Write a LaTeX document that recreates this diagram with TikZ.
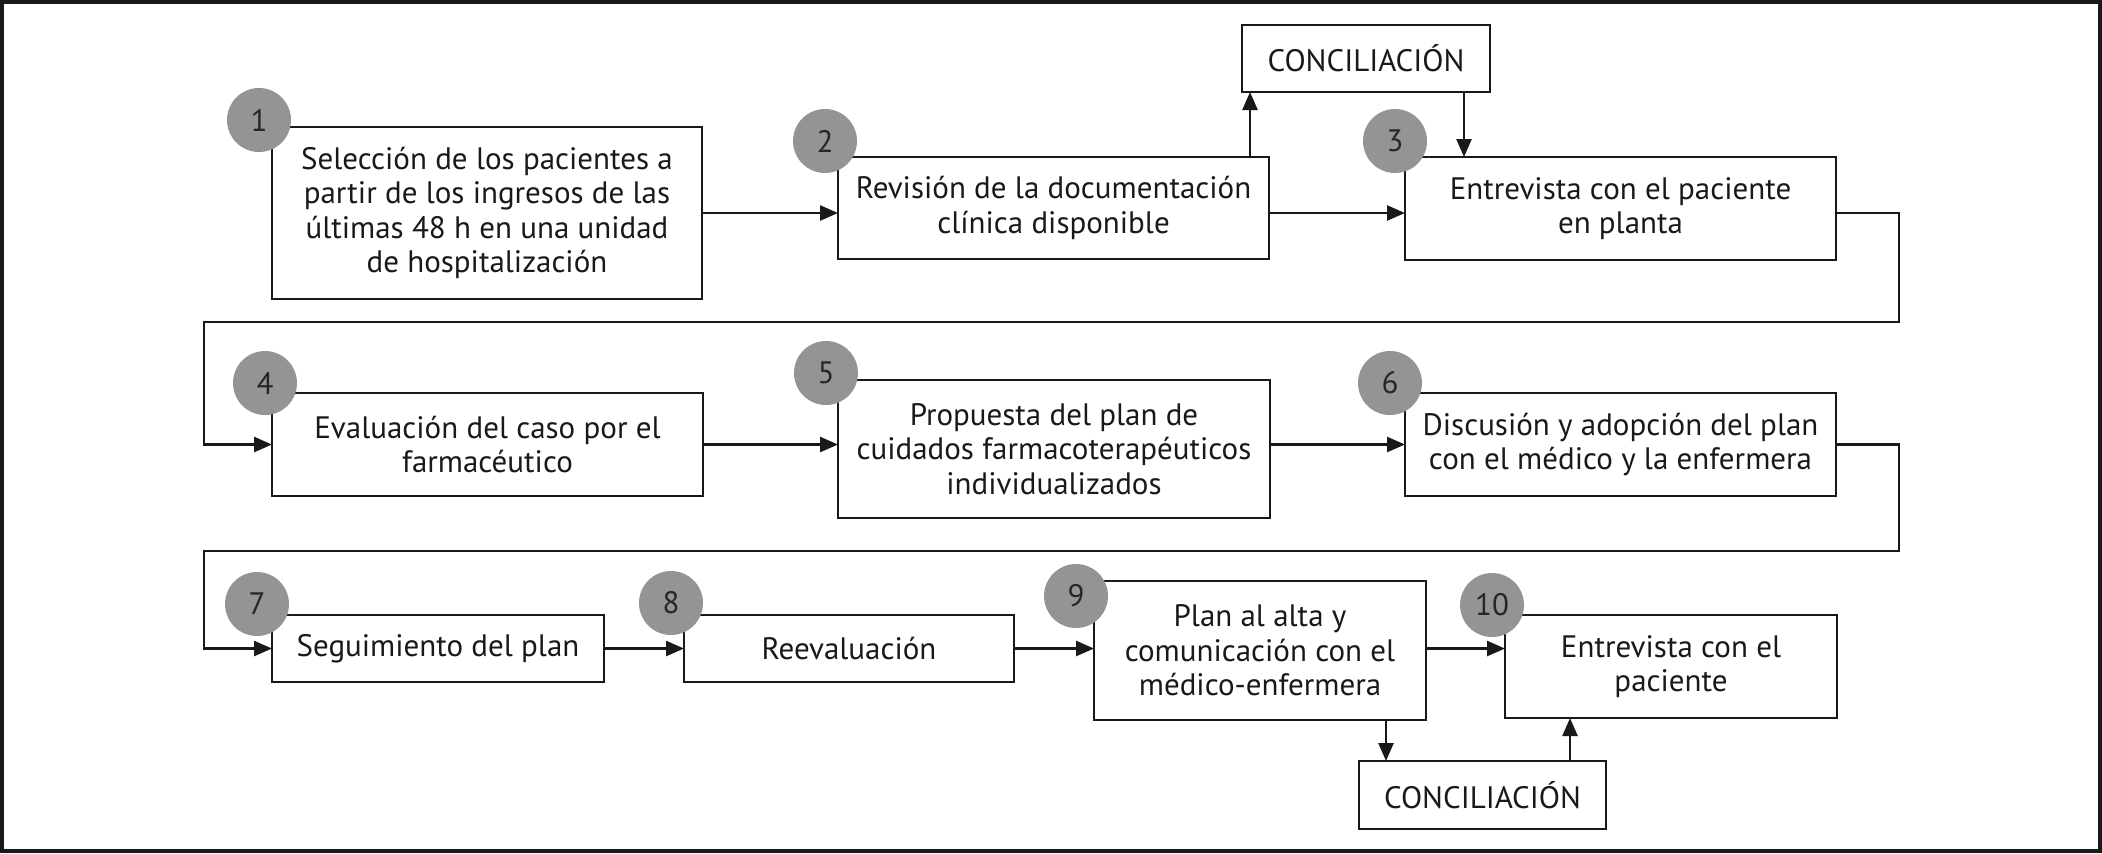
\documentclass[tikz,border=0pt]{standalone}
\usepackage{fontspec}
\setmainfont{PT Sans}
\usetikzlibrary{arrows.meta,calc}
\tikzset{
  stepbox/.style={draw=black!90, line width=1.35pt, fill=white, align=center,
    inner sep=0pt, outer sep=0pt, font=\fontsize{15.5}{17.25}\selectfont, text=black!90},
  numc/.style={circle, fill=black!42, minimum size=32pt, inner sep=0pt,
    font=\fontsize{15.5}{17}\selectfont, text=black!85},
  arr/.style={line width=1.25pt, draw=black!90, -{Triangle[length=9pt,width=7.5pt]}},
  frame/.style={line width=1.75pt, draw=black!90}
}
\newcommand{\placebox}[6]{%
  \pgfmathsetmacro\bw{(#4-#2)*0.5}%
  \pgfmathsetmacro\bh{(#5-#3)*0.5}%
  \node[stepbox, minimum width=\bw pt, minimum height=\bh pt] (#1) at ({(#2+#4)/2},{(#3+#5)/2}) {#6};}
\begin{document}
\begin{tikzpicture}[x=0.5pt,y=-0.5pt]
\useasboundingbox (0,0) rectangle (2102,853);
\draw[frame] (2,2) rectangle (2100,851);

\placebox{b1}{272}{127}{702}{299}{Selección de los pacientes a\\partir de los ingresos de las\\últimas 48 h en una unidad\\de hospitalización}
\placebox{b2}{838}{157}{1269}{259}{Revisión de la documentación\\clínica disponible}
\placebox{b3}{1405}{157}{1836}{260}{Entrevista con el paciente\\en planta}
\placebox{c1}{1242}{25}{1490}{92}{CONCILIACIÓN}
\placebox{b4}{272}{393}{703}{496}{Evaluación del caso por el\\farmacéutico}
\placebox{b5}{838}{380}{1270}{518}{Propuesta del plan de\\cuidados farmacoterapéuticos\\individualizados}
\placebox{b6}{1405}{393}{1836}{496}{Discusión y adopción del plan\\con el médico y la enfermera}
\placebox{b7}{272}{615}{604}{682}{Seguimiento del plan}
\placebox{b8}{684}{615}{1014}{682}{Reevaluación}
\placebox{b9}{1094}{581}{1426}{720}{Plan al alta y\\comunicación con el\\médico-enfermera}
\placebox{b10}{1505}{615}{1837}{718}{Entrevista con el\\paciente}
\placebox{c2}{1359}{761}{1606}{829}{CONCILIACIÓN}

\node[numc] (n1) at (259,120) {1};
\node[numc] (n2) at (825,141) {2};
\node[numc] (n3) at (1395,141) {3};
\node[numc] (n4) at (265,383) {4};
\node[numc] (n5) at (826,373) {5};
\node[numc] (n6) at (1390,383) {6};
\node[numc] (n7) at (257,604) {7};
\node[numc] (n8) at (671,603) {8};
\node[numc] (n9) at (1076,596) {9};
\node[numc] (n10) at (1492,605) {10};

\coordinate (r1) at (1899,322);
\coordinate (l1) at (204,322);
\coordinate (r2) at (1899,551);
\coordinate (l2) at (204,551);

\draw[arr] (b1.east) -- (b1.east -| b2.west);
\draw[arr] (b2.east |- b1.east) -- (b3.west |- b1.east);
\draw[arr] ([xshift=-9.5pt]b2.north east) -- ([xshift=-9.5pt]b2.north east |- c1.south);
\draw[arr] ([xshift=-13pt]c1.south east) -- ([xshift=-13pt]c1.south east |- b3.north);
\draw[arr] (b3.east |- b1.east) -| (r1) -- (l1) |- (b4.west);
\draw[arr] (b4.east) -- (b4.east -| b5.west);
\draw[arr] (b5.east |- b6.west) -- (b6.west);
\draw[arr] (b6.east) -| (r2) -- (l2) |- (b7.west);
\draw[arr] (b7.east) -- (b7.east -| b8.west);
\draw[arr] (b8.east) -- (b8.east -| b9.west);
\draw[arr] (b9.east |- b8.east) -- (b10.west |- b8.east);
\draw[arr] ([xshift=-20pt]b9.south east) -- ([xshift=-20pt]b9.south east |- c2.north);
\draw[arr] ([xshift=-18pt]c2.north east) -- ([xshift=-18pt]c2.north east |- b10.south);
\end{tikzpicture}
\end{document}
